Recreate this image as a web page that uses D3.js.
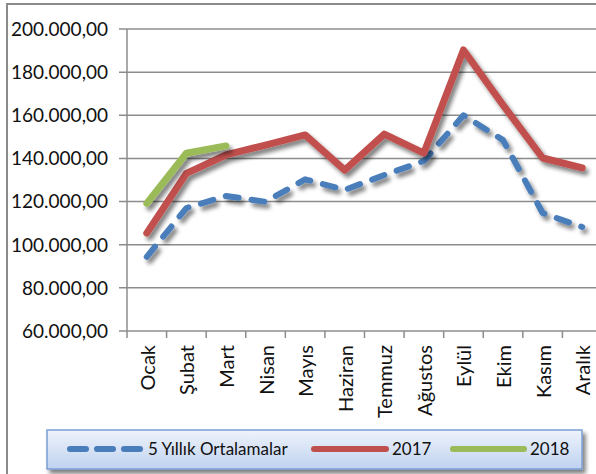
<!DOCTYPE html>
<html>
<head>
<meta charset="utf-8">
<script src="https://cdn.jsdelivr.net/npm/d3@7"></script>
<style>
  body { margin: 0; background: #fff; }
  svg { display: block; font-family: Lato, "Open Sans", sans-serif; }
</style>
</head>
<body>
<div id="chart"></div>
<script>
// aylar ve seriler
const months = ["Ocak", "Şubat", "Mart", "Nisan", "Mayıs", "Haziran", "Temmuz", "Ağustos", "Eylül", "Ekim", "Kasım", "Aralık"];
const avg5 = [94400, 117000, 122600, 119900, 130300, 125400, 132300, 138800, 160000, 148500, 114700, 108200];
const y2017 = [105400, 133100, 141600, 146200, 150900, 134600, 151300, 142500, 190300, 164800, 140200, 135600];
const y2018 = [119200, 142400, 145800];
const yTicks = [60000, 80000, 100000, 120000, 140000, 160000, 180000, 200000];
const seriesNames = ["5 Yıllık Ortalamalar", "2017", "2018"];

function init() {
    const width = 596, height = 474;
    const svg = d3.select("#chart").append("svg")
        .attr("width", width)
        .attr("height", height);

    const defs = svg.append("defs");
    const shadow = defs.append("filter").attr("id", "shadow")
        .attr("x", "-10%").attr("y", "-10%").attr("width", "130%").attr("height", "130%");
    shadow.append("feGaussianBlur").attr("in", "SourceAlpha").attr("stdDeviation", 2.2);
    shadow.append("feOffset").attr("dx", 3).attr("dy", 4).attr("result", "off");
    shadow.append("feComponentTransfer").append("feFuncA").attr("type", "linear").attr("slope", 0.5);
    const merge = shadow.append("feMerge");
    merge.append("feMergeNode");
    merge.append("feMergeNode").attr("in", "SourceGraphic");

    const grad = defs.append("linearGradient").attr("id", "legendFill")
        .attr("x1", 0).attr("y1", 0).attr("x2", 0).attr("y2", 1);
    grad.append("stop").attr("offset", "0%").attr("stop-color", "#eef3fb");
    grad.append("stop").attr("offset", "100%").attr("stop-color", "#bfd2f0");

    // dış çerçeve
    svg.append("rect")
        .attr("x", 7).attr("y", 4)
        .attr("width", 620).attr("height", 500)
        .attr("fill", "none")
        .attr("stroke", "#8a8a8a")
        .attr("stroke-width", 2);

    const x = d3.scaleBand()
        .domain(months)
        .range([127, 602]);

    const y = d3.scaleLinear()
        .domain([60000, 200000])
        .range([331, 29]);

    const tr = d3.formatLocale({decimal: ",", thousands: ".", grouping: [3], currency: ["", ""]});
    const fmt = tr.format(",.2f");

    // yatay ızgara
    svg.append("g")
        .selectAll("line")
        .data(yTicks)
        .enter().append("line")
          .attr("x1", 119).attr("x2", 602)
          .attr("y1", d => y(d)).attr("y2", d => y(d))
          .attr("stroke", "#8c8c8c")
          .attr("stroke-width", 1.5);

    svg.append("g")
        .selectAll("text")
        .data(yTicks)
        .enter().append("text")
          .attr("x", 108)
          .attr("y", d => y(d))
          .attr("dy", "0.36em")
          .attr("text-anchor", "end")
          .attr("font-size", 19)
          .attr("fill", "#111")
          .text(d => fmt(d));

    // eksenler
    svg.append("line")
        .attr("x1", 127).attr("x2", 127)
        .attr("y1", y(200000)).attr("y2", y(60000))
        .attr("stroke", "#8c8c8c").attr("stroke-width", 1.5);

    svg.append("g")
        .selectAll("line")
        .data(months)
        .enter().append("line")
          .attr("x1", d => x(d)).attr("x2", d => x(d))
          .attr("y1", 331).attr("y2", 338)
          .attr("stroke", "#8c8c8c").attr("stroke-width", 1.5);

    svg.append("g")
        .selectAll("text")
        .data(months)
        .enter().append("text")
          .attr("transform", d => `translate(${x(d) + x.bandwidth() / 2 + 1},345) rotate(-90)`)
          .attr("dy", "0.35em")
          .attr("text-anchor", "end")
          .attr("font-size", 20)
          .attr("fill", "#111")
          .text(d => d);

    const line = d3.line()
        .x((d, i) => x(months[i]) + x.bandwidth() / 2)
        .y(d => y(d));

    const series = [
        {name: seriesNames[0], values: avg5, color: "#4a7ebb", width: 6, dash: "13,13"},
        {name: seriesNames[1], values: y2017, color: "#c0504d", width: 7, dash: null},
        {name: seriesNames[2], values: y2018, color: "#9bbb59", width: 7, dash: null}
    ];

    svg.append("g")
        .selectAll("path")
        .data(series)
        .enter().append("path")
          .attr("d", d => line(d.values))
          .attr("fill", "none")
          .attr("stroke", d => d.color)
          .attr("stroke-width", d => d.width)
          .attr("stroke-linecap", "round")
          .attr("stroke-linejoin", "round")
          .attr("stroke-dasharray", d => d.dash)
          .attr("filter", "url(#shadow)");

    // lejant
    const legend = svg.append("g");
    legend.append("rect")
        .attr("x", 47).attr("y", 430)
        .attr("width", 535).attr("height", 39)
        .attr("fill", "url(#legendFill)")
        .attr("stroke", "#7b9fd4")
        .attr("stroke-width", 1.5)
        .attr("filter", "url(#shadow)");

    const legendX = [[70, 142, 148], [314, 386, 392], [453, 524, 530]];
    const items = legend.selectAll("g.item")
        .data(series)
        .enter().append("g").attr("class", "item");

    items.append("line")
        .attr("x1", (d, i) => legendX[i][0])
        .attr("x2", (d, i) => legendX[i][1])
        .attr("y1", 449).attr("y2", 449)
        .attr("stroke", d => d.color)
        .attr("stroke-width", 6)
        .attr("stroke-linecap", "round")
        .attr("stroke-dasharray", (d, i) => i == 0 ? "16,11" : null);

    items.append("text")
        .attr("x", (d, i) => legendX[i][2])
        .attr("y", 449)
        .attr("dy", "0.35em")
        .attr("font-size", 17)
        .attr("fill", "#111")
        .text(d => d.name);
}

init();
</script>
</body>
</html>
